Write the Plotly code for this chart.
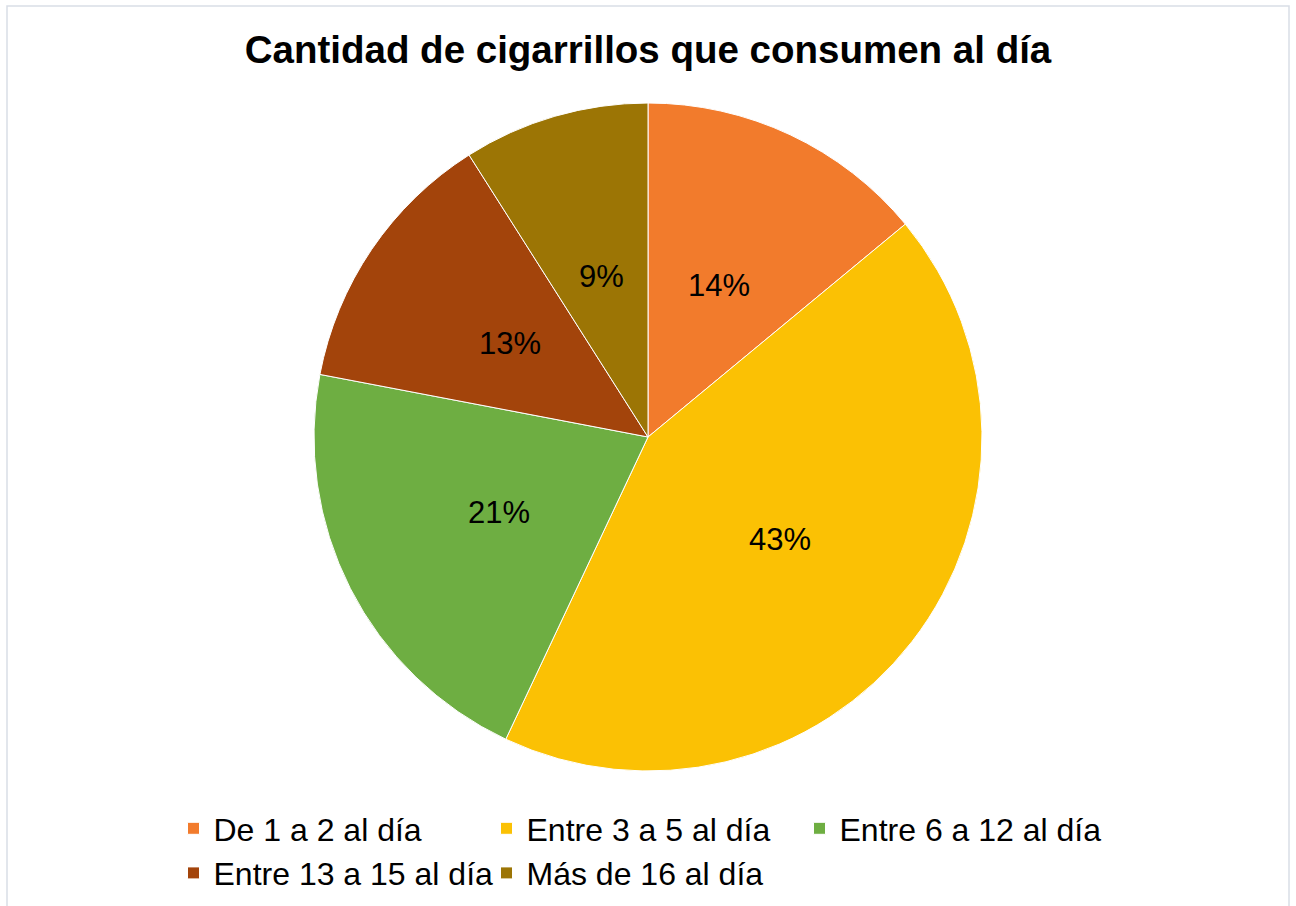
import math
import plotly.graph_objects as go

# consumo diario de cigarrillos (porcentaje de encuestados)
categorias = ["De 1 a 2 al día", "Entre 3 a 5 al día", "Entre 6 a 12 al día",
              "Entre 13 a 15 al día", "Más de 16 al día"]
porcentajes = [14, 43, 21, 13, 9]
colores = ["#F27B2C", "#FBC104", "#6EAE42", "#A3440B", "#9C7505"]

W, H = 1296, 906
M_T, M_B, M_L, M_R = 103, 135, 150, 150
PW, PH = W - M_L - M_R, H - M_T - M_B
R = min(PW, PH) / 2

fig = go.Figure()

fig.add_trace(
    go.Pie(
        labels=categorias,
        values=porcentajes,
        sort=False,
        direction="clockwise",
        rotation=0,
        marker=dict(colors=colores, line=dict(color="white", width=1)),
        textinfo="none",
        hoverinfo="label+percent",
    )
)

# etiquetas de porcentaje a media distancia del radio, como en Excel
total = sum(porcentajes)
acum = 0
for v in porcentajes:
    ang = 2 * math.pi * (acum + v / 2) / total
    acum += v
    fig.add_annotation(
        x=0.5 + 0.5 * R * math.sin(ang) / PW,
        y=0.5 + 0.5 * R * math.cos(ang) / PH,
        xref="paper", yref="paper",
        xanchor="center", yanchor="middle",
        text=f"{round(100 * v / total)}%",
        showarrow=False,
        font=dict(family="Liberation Sans", size=31, color="black"),
    )

# marco gris claro del gráfico
fig.add_shape(
    type="rect", xref="paper", yref="paper",
    x0=(7 - M_L) / PW, x1=(1289 - M_L) / PW,
    y0=(H - M_B - 915) / PH, y1=(H - M_B - 6) / PH,
    line=dict(color="#D9DEE6", width=1.5), fillcolor="rgba(0,0,0,0)",
    layer="below",
)

fig.update_layout(
    width=W,
    height=H,
    margin=dict(t=M_T, b=M_B, l=M_L, r=M_R, autoexpand=False),
    paper_bgcolor="white",
    plot_bgcolor="white",
    title=dict(
        text="<b>Cantidad de cigarrillos que consumen al día</b>",
        x=0.5, xanchor="center",
        y=1 - 50 / H, yanchor="middle", yref="container",
        font=dict(family="Liberation Sans", size=38.5, color="black"),
    ),
    legend=dict(
        orientation="h",
        x=0.5 - 5 / PW, xanchor="center",
        y=-30 / PH, yanchor="top",
        entrywidth=268, entrywidthmode="pixels",
        font=dict(family="Liberation Sans", size=32, color="black"),
        traceorder="normal",
    ),
    font=dict(family="Liberation Sans"),
)

fig.write_html("out.html", config={"displayModeBar": False},
               post_script="document.body.style.margin='0';")
